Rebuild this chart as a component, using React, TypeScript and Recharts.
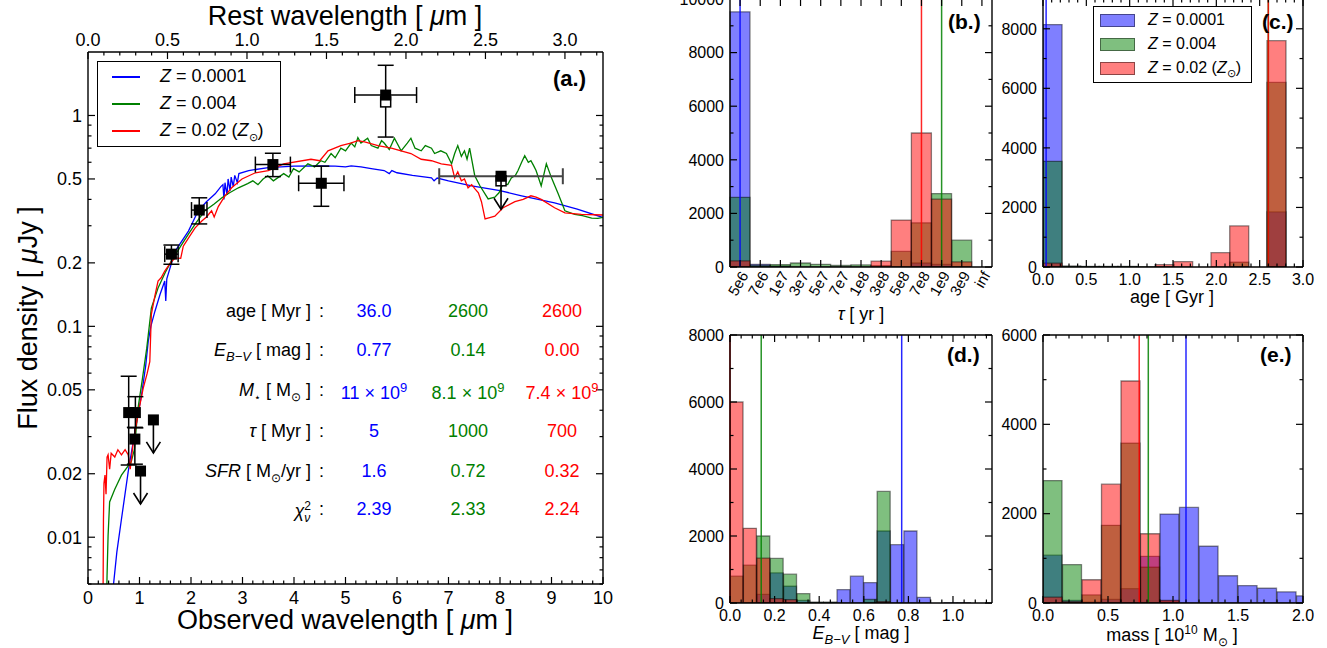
import React from 'react';
import {
  ComposedChart,
  BarChart,
  Bar,
  Line,
  Scatter,
  XAxis,
  YAxis,
  ErrorBar,
  ReferenceLine,
} from 'recharts';

const FONT = '"Liberation Sans", Arial, Helvetica, sans-serif';
const BLUE = '#0000ff';
const GREEN = '#008000';
const RED = '#ff0000';
const FILL_B = 'rgba(0,0,255,0.5)';
const FILL_G = 'rgba(0,128,0,0.5)';
const FILL_R = 'rgba(255,0,0,0.5)';
const EDGE = 'rgba(0,0,0,0.45)';

// redshift used for the rest-frame axis on top
const Z_RED = 2.087;

// model SEDs: [observed wavelength (um), flux density (uJy)]
const SED_BLUE: [number, number][] = [
  [0.45, 0.004], [0.49, 0.0058], [0.56, 0.0085], [0.65, 0.0122], [0.78, 0.0204],
  [0.91, 0.0316], [1.04, 0.0474], [1.12, 0.065], [1.17, 0.085], [1.22, 0.1],
  [1.3, 0.118], [1.4, 0.142], [1.49, 0.164], [1.51, 0.132], [1.53, 0.168],
  [1.69, 0.227], [1.95, 0.283], [2.14, 0.353], [2.3, 0.39], [2.47, 0.425],
  [2.58, 0.46], [2.62, 0.47], [2.64, 0.4], [2.66, 0.48], [2.7, 0.42], [2.72, 0.5],
  [2.76, 0.44], [2.78, 0.51], [2.82, 0.46], [2.85, 0.52], [2.9, 0.48], [2.93, 0.53],
  [3.12, 0.548], [3.5, 0.566], [4.0, 0.575], [4.46, 0.577], [4.8, 0.575], [5.0, 0.57],
  [5.11, 0.577], [5.3, 0.57], [5.5, 0.56], [5.75, 0.548], [5.85, 0.53], [5.9, 0.548],
  [6.0, 0.535], [6.3, 0.52], [6.67, 0.506], [6.72, 0.49], [6.78, 0.505], [7.0, 0.49],
  [7.45, 0.464], [8.0, 0.44], [8.42, 0.416], [9.06, 0.385], [9.5, 0.36], [10.04, 0.326],
];

const SED_GREEN: [number, number][] = [
  [0.355, 0.004], [0.37, 0.0066], [0.39, 0.0102], [0.42, 0.0147], [0.52, 0.0169],
  [0.65, 0.0197], [0.84, 0.0228], [0.9, 0.026], [0.97, 0.0407], [1.05, 0.055],
  [1.14, 0.0786], [1.23, 0.122], [1.36, 0.152], [1.5, 0.18], [1.62, 0.204],
  [1.8, 0.24], [1.95, 0.274], [2.1, 0.31], [2.27, 0.353], [2.45, 0.38], [2.6, 0.407],
  [2.75, 0.43], [2.92, 0.454], [3.1, 0.475], [3.2, 0.49], [3.3, 0.47], [3.4, 0.5],
  [3.49, 0.518], [3.6, 0.49], [3.8, 0.53], [3.9, 0.51], [3.99, 0.559], [4.1, 0.54],
  [4.27, 0.59], [4.4, 0.57], [4.52, 0.61], [4.6, 0.6], [4.72, 0.66], [4.8, 0.63],
  [4.91, 0.7], [5.0, 0.68], [5.11, 0.74], [5.18, 0.71], [5.24, 0.786], [5.3, 0.74],
  [5.43, 0.78], [5.5, 0.72], [5.63, 0.7], [5.7, 0.76], [5.75, 0.74], [5.85, 0.69],
  [5.95, 0.78], [6.08, 0.68], [6.2, 0.74], [6.27, 0.78], [6.35, 0.7], [6.47, 0.68],
  [6.55, 0.72], [6.67, 0.7], [6.73, 0.66], [6.85, 0.68], [6.96, 0.66], [7.06, 0.59],
  [7.12, 0.66], [7.18, 0.72], [7.25, 0.64], [7.31, 0.68], [7.36, 0.62], [7.41, 0.7],
  [7.51, 0.518], [7.61, 0.464], [7.77, 0.402], [7.9, 0.41], [7.98, 0.43], [8.06, 0.474],
  [8.15, 0.47], [8.22, 0.506], [8.3, 0.52], [8.35, 0.548], [8.42, 0.6], [8.48, 0.645],
  [8.55, 0.6], [8.6, 0.61], [8.65, 0.58], [8.7, 0.548], [8.8, 0.464], [8.9, 0.59],
  [9.0, 0.506], [9.13, 0.425], [9.26, 0.353], [9.45, 0.34], [9.6, 0.335], [9.78, 0.326],
  [9.9, 0.325], [10.04, 0.33],
];

const SED_RED: [number, number][] = [
  [0.29, 0.004], [0.3, 0.012], [0.31, 0.018], [0.33, 0.0197], [0.35, 0.016],
  [0.37, 0.024], [0.39, 0.0246], [0.42, 0.021], [0.45, 0.025], [0.52, 0.024],
  [0.58, 0.026], [0.65, 0.0246], [0.72, 0.026], [0.78, 0.0246], [0.82, 0.021],
  [0.88, 0.0284], [0.97, 0.0381], [1.07, 0.0507], [1.15, 0.06], [1.2, 0.068],
  [1.23, 0.114], [1.3, 0.14], [1.36, 0.164], [1.42, 0.17], [1.49, 0.183], [1.6, 0.2],
  [1.69, 0.211], [1.8, 0.21], [1.85, 0.24], [1.95, 0.262], [2.08, 0.293], [2.21, 0.316],
  [2.3, 0.33], [2.4, 0.353], [2.45, 0.33], [2.53, 0.37], [2.66, 0.416], [2.79, 0.454],
  [2.99, 0.5], [3.25, 0.535], [3.5, 0.548], [3.8, 0.59], [4.33, 0.62], [4.5, 0.61],
  [4.66, 0.68], [4.91, 0.72], [5.1, 0.74], [5.24, 0.76], [5.37, 0.75], [5.63, 0.72],
  [5.89, 0.7], [6.27, 0.66], [6.47, 0.62], [6.67, 0.61], [6.86, 0.59], [7.06, 0.58],
  [7.12, 0.506], [7.18, 0.54], [7.25, 0.49], [7.31, 0.5], [7.38, 0.454], [7.45, 0.47],
  [7.51, 0.45], [7.58, 0.43], [7.64, 0.39], [7.71, 0.323], [7.8, 0.328], [7.9, 0.333],
  [8.06, 0.365], [8.29, 0.39], [8.45, 0.4], [8.6, 0.416], [8.7, 0.41], [8.8, 0.4],
  [9.06, 0.365], [9.26, 0.345], [9.58, 0.34], [10.04, 0.337],
];

// photometry with errors
const PHOT_X = [0.79, 0.92, 0.91, 1.62, 2.16, 3.59, 4.53, 5.78];
const PHOT_Y = [0.039, 0.039, 0.0292, 0.22, 0.356, 0.585, 0.477, 1.25];
const PHOT_YLO = [0.017, 0.006, 0.007, 0.023, 0.05, 0.072, 0.106, 0.46];
const PHOT_YHI = [0.019, 0.0074, 0.004, 0.023, 0.051, 0.077, 0.098, 0.48];
const PHOT_XERR = [0, 0, 0, 0.13, 0.15, 0.34, 0.44, 0.6];
// upper limits
const LIM_X = [1.02, 1.27, 8.02];
const LIM_Y = [0.0206, 0.036, 0.515];
const LIM_XERR = [0, 0, 1.2];
// open markers under the last two points
const OPEN_X = [5.78, 8.02];
const OPEN_Y = [1.16, 0.49];

// fit results table
const AGE_VALS = ['36.0', '2600', '2600'];
const EBV_VALS = ['0.77', '0.14', '0.00'];
const MASS_VALS = ['11', '8.1', '7.4'];
const TAU_VALS = ['5', '1000', '700'];
const SFR_VALS = ['1.6', '0.72', '0.32'];
const CHI_VALS = ['2.39', '2.33', '2.24'];

// (b.) tau histogram
const TAU_BINS = ['5e6', '7e6', '1e7', '3e7', '5e7', '7e7', '1e8', '3e8', '5e8', '7e8', '1e9', '3e9', 'inf'];
const TAU_BLUE = [9520, 100, 40, 0, 0, 0, 0, 0, 0, 150, 100, 0, 0];
const TAU_GREEN = [2600, 60, 90, 150, 100, 60, 80, 50, 580, 1650, 2740, 1000, 0];
const TAU_RED = [230, 0, 0, 0, 0, 0, 0, 220, 1750, 5000, 2530, 190, 0];

// (c.) age histogram, Gyr bin centres
const AGE_BINS = [0.108, 0.323, 0.538, 0.754, 0.969, 1.185, 1.4, 1.615, 1.831, 2.046, 2.262, 2.477, 2.692];
const AGE_BLUE = [8140, 20, 10, 10, 10, 0, 0, 0, 0, 0, 0, 0, 1850];
const AGE_GREEN = [3550, 30, 20, 20, 20, 10, 10, 0, 0, 0, 160, 0, 6200];
const AGE_RED = [130, 0, 0, 0, 0, 0, 80, 180, 0, 480, 1380, 0, 7600];

// (d.) E(B-V) histogram
const EBV_BINS = [0.03, 0.09, 0.15, 0.21, 0.27, 0.33, 0.39, 0.45, 0.51, 0.57, 0.63, 0.69, 0.75, 0.81, 0.87, 0.93, 0.99, 1.05, 1.11];
const EBV_BLUE = [0, 0, 260, 900, 500, 80, 20, 20, 400, 800, 610, 2150, 1740, 2150, 170, 0, 10, 10, 0];
const EBV_GREEN = [800, 1130, 2000, 1330, 860, 280, 20, 20, 0, 0, 110, 3330, 0, 0, 0, 0, 0, 0, 0];
const EBV_RED = [6000, 2230, 1340, 130, 100, 0, 0, 0, 0, 0, 0, 40, 0, 0, 0, 0, 0, 0, 0];

// (e.) mass histogram, 1e10 Msun
const MASS_BINS = [0.075, 0.225, 0.375, 0.525, 0.675, 0.825, 0.975, 1.125, 1.275, 1.425, 1.575, 1.725, 1.875, 2.025];
const MASS_BLUE = [1070, 60, 20, 80, 320, 1045, 1990, 2140, 1270, 610, 390, 330, 250, 160];
const MASS_GREEN = [2740, 860, 180, 1740, 3580, 800, 40, 0, 0, 0, 0, 0, 0, 0];
const MASS_RED = [130, 30, 520, 2660, 4970, 1550, 60, 0, 0, 0, 0, 0, 0, 0];

const toXY = (a: [number, number][]) => a.map(([x, y]) => ({ x, y }));

function range(a: number, b: number, step: number) {
  const out: number[] = [];
  for (let i = 0; a + i * step <= b + 1e-9; i++) out.push(Math.round((a + i * step) * 1e6) / 1e6);
  return out;
}

type Side = 'left' | 'right' | 'top' | 'bottom';
const GAP = 6;
const near = (v: number, list: number[]) => list.some((m) => Math.abs(m - v) < 1e-6);

// ticks pointing inwards, matplotlib style
function tickFn(side: Side, o: { majors?: number[]; fmt?: (v: any) => string; size?: number; rotate?: number }) {
  return (p: any) => {
    const v = p.payload.value;
    const major = !o.majors || near(Number(v), o.majors);
    const len = major ? 7 : 3.5;
    const { x, y } = p;
    const fs = o.size ?? 16;
    const ts = { fontFamily: FONT, fontSize: fs, fill: '#000' };
    let l = [0, 0, 0, 0];
    let t: any = null;
    if (side === 'left') {
      const ax = x + GAP;
      l = [ax, y, ax + len, y];
      if (o.fmt && major)
        t = <text x={x} y={y} dy="0.36em" textAnchor="end" style={ts}>{o.fmt(v)}</text>;
    } else if (side === 'right') {
      const ax = x - GAP;
      l = [ax, y, ax - len, y];
    } else if (side === 'top') {
      const ay = y + GAP;
      l = [x, ay, x, ay + len];
      if (o.fmt && major)
        t = <text x={x} y={y} textAnchor="middle" style={ts}>{o.fmt(v)}</text>;
    } else {
      const ay = y - GAP;
      l = [x, ay, x, ay - len];
      if (o.fmt && major) {
        t = o.rotate ? (
          <text x={x + 5} y={y} dy="0.3em" textAnchor="end" transform={`rotate(${o.rotate} ${x + 5} ${y})`} style={ts}>
            {o.fmt(v)}
          </text>
        ) : (
          <text x={x} y={y} dy="0.76em" textAnchor="middle" style={ts}>{o.fmt(v)}</text>
        );
      }
    }
    return (
      <g>
        <line x1={l[0]} y1={l[1]} x2={l[2]} y2={l[3]} stroke="#000" strokeWidth={1.2} />
        {t}
      </g>
    );
  };
}

const AX = { stroke: '#000', strokeWidth: 1.4 };

const filledSquare = (p: any) => (
  <rect x={p.cx - 5.5} y={p.cy - 5.5} width={11} height={11} fill="#000" />
);
const openSquare = (p: any) => (
  <rect x={p.cx - 5} y={p.cy - 5} width={10} height={10} fill="#fff" stroke="#000" strokeWidth={1.5} />
);
const limitShape = (p: any) => (
  <g>
    <line x1={p.cx} y1={p.cy} x2={p.cx} y2={p.cy + 33} stroke="#000" strokeWidth={1.6} />
    <polyline
      points={`${p.cx - 7},${p.cy + 22} ${p.cx},${p.cy + 33} ${p.cx + 7},${p.cy + 22}`}
      fill="none"
      stroke="#000"
      strokeWidth={1.6}
    />
    <rect x={p.cx - 5.5} y={p.cy - 5.5} width={11} height={11} fill="#000" />
  </g>
);

const FLUX_TICKS = [0.006, 0.007, 0.008, 0.009, 0.01, 0.02, 0.03, 0.04, 0.05, 0.06, 0.07, 0.08, 0.09, 0.1, 0.2, 0.3, 0.4, 0.5, 0.6, 0.7, 0.8, 0.9, 1];
const FLUX_MAJ = [0.01, 0.02, 0.05, 0.1, 0.2, 0.5, 1];
const OBS_TICKS = range(0, 10, 0.2);
const REST_TICKS = range(0, 3.2, 0.1);

function SedPanel() {
  const phot = PHOT_X.map((x, i) => ({ x, y: PHOT_Y[i], ey: [PHOT_YLO[i], PHOT_YHI[i]], ex: PHOT_XERR[i] }));
  const lims = LIM_X.map((x, i) => ({ x, y: LIM_Y[i], ex: LIM_XERR[i] }));
  // open markers placed through the rest-frame axis (same position on the page)
  const openRest = OPEN_X.map((x, i) => ({ x: x / (1 + Z_RED), y: OPEN_Y[i] }));
  return (
    <div style={{ position: 'absolute', left: 0, top: 0 }}>
      <ComposedChart width={640} height={648} margin={{ top: 0, right: 0, bottom: 0, left: 0 }}>
        <XAxis
          xAxisId="obs"
          type="number"
          dataKey="x"
          domain={[0, 10]}
          allowDataOverflow
          ticks={OBS_TICKS}
          interval={0}
          height={64}
          tickSize={0}
          tickMargin={GAP}
          tickLine={false}
          axisLine={AX}
          tick={tickFn('bottom', { majors: range(0, 10, 1), fmt: (v) => String(v), size: 18 })}
        />
        <XAxis
          xAxisId="rest"
          orientation="top"
          type="number"
          dataKey="x"
          domain={[0, 10 / (1 + Z_RED)]}
          allowDataOverflow
          ticks={REST_TICKS}
          interval={0}
          height={52}
          tickSize={0}
          tickMargin={GAP}
          tickLine={false}
          axisLine={AX}
          tick={tickFn('top', { majors: range(0, 3, 0.5), fmt: (v) => Number(v).toFixed(1), size: 18 })}
        />
        <YAxis
          yAxisId="flux"
          type="number"
          scale="log"
          domain={[0.006, 2]}
          allowDataOverflow
          ticks={FLUX_TICKS}
          interval={0}
          width={88}
          tickSize={0}
          tickMargin={GAP}
          tickLine={false}
          axisLine={AX}
          tick={tickFn('left', { majors: FLUX_MAJ, fmt: (v) => String(v), size: 18 })}
        />
        <YAxis
          yAxisId="fr"
          orientation="right"
          type="number"
          scale="log"
          domain={[0.006, 2]}
          allowDataOverflow
          ticks={FLUX_TICKS}
          interval={0}
          width={37}
          tickSize={0}
          tickMargin={GAP}
          tickLine={false}
          axisLine={AX}
          tick={tickFn('right', { majors: FLUX_MAJ })}
        />
        <Line xAxisId="obs" yAxisId="flux" data={toXY(SED_BLUE)} dataKey="y" type="linear" stroke={BLUE} strokeWidth={1.3} dot={false} isAnimationActive={false} />
        <Line xAxisId="obs" yAxisId="flux" data={toXY(SED_GREEN)} dataKey="y" type="linear" stroke={GREEN} strokeWidth={1.3} dot={false} isAnimationActive={false} />
        <Line xAxisId="obs" yAxisId="fr" data={toXY(SED_RED)} dataKey="y" type="linear" stroke={RED} strokeWidth={1.3} dot={false} isAnimationActive={false} />
        <Scatter xAxisId="rest" yAxisId="flux" data={openRest} dataKey="y" shape={openSquare} isAnimationActive={false} />
        <Scatter xAxisId="obs" yAxisId="flux" data={phot} dataKey="y" shape={filledSquare} isAnimationActive={false}>
          <ErrorBar dataKey="ex" direction="x" width={8} stroke="#000" strokeWidth={1.5} />
          <ErrorBar dataKey="ey" direction="y" width={8} stroke="#000" strokeWidth={1.5} />
        </Scatter>
        <Scatter xAxisId="obs" yAxisId="flux" data={lims} dataKey="y" shape={limitShape} isAnimationActive={false}>
          <ErrorBar dataKey="ex" direction="x" width={8} stroke="#444" strokeWidth={2} />
        </Scatter>
      </ComposedChart>
    </div>
  );
}

type HistProps = {
  left: number;
  top: number;
  width: number;
  height: number;
  padL: number;
  padR: number;
  padT: number;
  padB: number;
  data: any[];
  category?: boolean;
  xDomain?: [number, number];
  xTicks?: number[];
  xMajors?: number[];
  xFmt: (v: any) => string;
  rotate?: number;
  yMax: number;
  yStep: number;
  refs: { x: any; color: string }[];
};

function Hist(p: HistProps) {
  const yTicks = range(0, p.yMax, 1000);
  const yMajors = range(0, p.yMax, p.yStep);
  const xCommon: any = p.category
    ? { type: 'category', dataKey: 'x' }
    : { type: 'number', dataKey: 'x', domain: p.xDomain, allowDataOverflow: true, ticks: p.xTicks };
  const common: any = { tickSize: 0, tickMargin: GAP, tickLine: false, axisLine: AX, interval: 0 };
  return (
    <div style={{ position: 'absolute', left: p.left, top: p.top }}>
      <BarChart
        width={p.width}
        height={p.height}
        data={p.data}
        margin={{ top: 0, right: 0, bottom: 0, left: 0 }}
        barCategoryGap={0}
        barGap={0}
      >
        <XAxis
          xAxisId="xb"
          {...xCommon}
          {...common}
          height={p.padB}
          tick={tickFn('bottom', { majors: p.xMajors, fmt: p.xFmt, rotate: p.rotate, size: p.rotate ? 15 : 16 })}
        />
        <XAxis xAxisId="xg" orientation="top" {...xCommon} {...common} height={p.padT} tick={tickFn('top', { majors: p.xMajors })} />
        <XAxis xAxisId="xr" hide {...xCommon} />
        <YAxis
          type="number"
          domain={[0, p.yMax]}
          allowDataOverflow
          ticks={yTicks}
          width={p.padL}
          {...common}
          tick={tickFn('left', { majors: yMajors, fmt: (v) => String(v), size: 16 })}
        />
        <YAxis
          yAxisId="yr"
          orientation="right"
          type="number"
          domain={[0, p.yMax]}
          allowDataOverflow
          ticks={yTicks}
          width={p.padR}
          {...common}
          tick={tickFn('right', { majors: yMajors })}
        />
        <Bar xAxisId="xb" dataKey="b" fill={FILL_B} stroke={EDGE} strokeWidth={1.3} isAnimationActive={false} />
        <Bar xAxisId="xg" dataKey="g" fill={FILL_G} stroke={EDGE} strokeWidth={1.3} isAnimationActive={false} />
        <Bar xAxisId="xr" yAxisId="yr" dataKey="r" fill={FILL_R} stroke={EDGE} strokeWidth={1.3} isAnimationActive={false} />
        {p.refs.map((r, i) => (
          <ReferenceLine key={i} xAxisId="xb" x={r.x} stroke={r.color} strokeWidth={1.5} strokeOpacity={0.85} />
        ))}
      </BarChart>
    </div>
  );
}

const txt = (extra: React.CSSProperties): React.CSSProperties => ({
  position: 'absolute',
  fontFamily: FONT,
  color: '#000',
  whiteSpace: 'nowrap',
  lineHeight: 1,
  ...extra,
});

const ROW_Y = [312, 351, 391, 432, 472, 510];
const COL_X = [374, 468, 562];
const COL_C = [BLUE, GREEN, RED];

function FitTable() {
  const labels: React.ReactNode[] = [
    <>age [ Myr ]</>,
    <>
      <i>E</i>
      <sub style={{ fontSize: 13 }}>
        <i>B−V</i>
      </sub>{' '}
      [ mag ]
    </>,
    <>
      <i>M</i>
      <sub style={{ fontSize: 11 }}>⋆</sub> [ M<sub style={{ fontSize: 12 }}>⊙</sub> ]
    </>,
    <>
      <i>τ</i> [ Myr ]
    </>,
    <>
      <i>SFR</i> [ M<sub style={{ fontSize: 12 }}>⊙</sub>/yr ]
    </>,
    <>
      <i>χ</i>
      <sub style={{ fontSize: 12 }}>
        <i>ν</i>
      </sub>
      <sup style={{ fontSize: 12, marginLeft: -6 }}>2</sup>
    </>,
  ];
  const vals: React.ReactNode[][] = [
    AGE_VALS,
    EBV_VALS,
    MASS_VALS.map((m) => (
      <>
        {m} × 10<sup style={{ fontSize: 13 }}>9</sup>
      </>
    )),
    TAU_VALS,
    SFR_VALS,
    CHI_VALS,
  ];
  return (
    <>
      {ROW_Y.map((y, r) => (
        <React.Fragment key={r}>
          <div style={txt({ left: 100, width: 211, top: y - 10, fontSize: 18, textAlign: 'right' })}>{labels[r]}</div>
          <div style={txt({ left: 319, top: y - 10, fontSize: 18 })}>:</div>
          {vals[r].map((v, c) => (
            <div key={c} style={txt({ left: COL_X[c] - 60, width: 120, top: y - 10, fontSize: 18, textAlign: 'center', color: COL_C[c] })}>
              {v}
            </div>
          ))}
        </React.Fragment>
      ))}
    </>
  );
}

function ZLabel({ i }: { i: number }) {
  if (i === 0)
    return (
      <>
        <i>Z</i> = 0.0001
      </>
    );
  if (i === 1)
    return (
      <>
        <i>Z</i> = 0.004
      </>
    );
  return (
    <>
      <i>Z</i> = 0.02 (<i>Z</i>
      <sub style={{ fontSize: 11 }}>⊙</sub>)
    </>
  );
}

export default function App() {
  const tauData = TAU_BINS.map((x, i) => ({ x, b: TAU_BLUE[i], g: TAU_GREEN[i], r: TAU_RED[i] }));
  const ageData = AGE_BINS.map((x, i) => ({ x, b: AGE_BLUE[i], g: AGE_GREEN[i], r: AGE_RED[i] }));
  const ebvData = EBV_BINS.map((x, i) => ({ x, b: EBV_BLUE[i], g: EBV_GREEN[i], r: EBV_RED[i] }));
  const massData = MASS_BINS.map((x, i) => ({ x, b: MASS_BLUE[i], g: MASS_GREEN[i], r: MASS_RED[i] }));
  return (
    <div style={{ position: 'absolute', left: 0, top: 0, width: 1327, height: 648, overflow: 'hidden', background: '#fff', fontFamily: FONT }}>
      <SedPanel />
      <Hist
        left={660} top={-30} width={340} height={360}
        padL={70} padR={8} padT={29} padB={63}
        data={tauData} category xFmt={(v) => String(v)} rotate={-60}
        yMax={10000} yStep={2000}
        refs={[{ x: '5e6', color: BLUE }, { x: '7e8', color: RED }, { x: '1e9', color: GREEN }]}
      />
      <Hist
        left={990} top={-30} width={337} height={360}
        padL={53} padR={24} padT={29} padB={63}
        data={ageData} xDomain={[0, 3]} xTicks={range(0, 3, 0.1)} xMajors={range(0, 3, 0.5)}
        xFmt={(v) => Number(v).toFixed(1)}
        yMax={9000} yStep={2000}
        refs={[{ x: 0.036, color: BLUE }, { x: 2.6, color: GREEN }, { x: 2.6, color: RED }]}
      />
      <Hist
        left={660} top={300} width={340} height={348}
        padL={70} padR={8} padT={35} padB={45}
        data={ebvData} xDomain={[0, 1.175]} xTicks={range(0, 1.15, 0.05)} xMajors={range(0, 1, 0.2)}
        xFmt={(v) => Number(v).toFixed(1)}
        yMax={8000} yStep={2000}
        refs={[{ x: 0.77, color: BLUE }, { x: 0.14, color: GREEN }, { x: 0, color: RED }]}
      />
      <Hist
        left={990} top={300} width={337} height={348}
        padL={53} padR={24} padT={35} padB={45}
        data={massData} xDomain={[0, 2]} xTicks={range(0, 2, 0.1)} xMajors={range(0, 2, 0.5)}
        xFmt={(v) => Number(v).toFixed(1)}
        yMax={6000} yStep={2000}
        refs={[{ x: 1.1, color: BLUE }, { x: 0.81, color: GREEN }, { x: 0.74, color: RED }]}
      />

      {/* panel (a) texts */}
      <div style={txt({ left: 345, top: 3, fontSize: 27, transform: 'translateX(-50%)' })}>
        Rest wavelength [ <i>μ</i>m ]
      </div>
      <div style={txt({ left: 345, top: 607, fontSize: 27, transform: 'translateX(-50%)' })}>
        Observed wavelength [ <i>μ</i>m ]
      </div>
      <div style={txt({ left: 28, top: 318, fontSize: 27, transform: 'translate(-50%, -50%) rotate(-90deg)' })}>
        Flux density [ <i>μ</i>Jy ]
      </div>
      <div style={txt({ left: 553, top: 68, fontSize: 22, fontWeight: 'bold' })}>(a.)</div>
      <div style={{ position: 'absolute', left: 97, top: 61, width: 184, height: 86, border: '1.5px solid #000', background: '#fff', boxSizing: 'border-box' }}>
        {[BLUE, GREEN, RED].map((c, i) => (
          <React.Fragment key={i}>
            <div style={{ position: 'absolute', left: 14, top: 14 + i * 27, width: 28, height: 2, background: c }} />
            <div style={txt({ left: 62, top: 5 + i * 27, fontSize: 18 })}>
              <ZLabel i={i} />
            </div>
          </React.Fragment>
        ))}
      </div>
      <FitTable />

      {/* histogram texts */}
      <div style={txt({ left: 948, top: 11, fontSize: 21, fontWeight: 'bold' })}>(b.)</div>
      <div style={txt({ left: 1262, top: 11, fontSize: 21, fontWeight: 'bold' })}>(c.)</div>
      <div style={txt({ left: 947, top: 344, fontSize: 21, fontWeight: 'bold' })}>(d.)</div>
      <div style={txt({ left: 1260, top: 344, fontSize: 21, fontWeight: 'bold' })}>(e.)</div>
      <div style={txt({ left: 861, top: 305, fontSize: 18, transform: 'translateX(-50%)' })}>
        <i>τ</i> [ yr ]
      </div>
      <div style={txt({ left: 1172, top: 288, fontSize: 18, transform: 'translateX(-50%)' })}>age [ Gyr ]</div>
      <div style={txt({ left: 861, top: 624, fontSize: 18, transform: 'translateX(-50%)' })}>
        <i>E</i>
        <sub style={{ fontSize: 13 }}>
          <i>B−V</i>
        </sub>{' '}
        [ mag ]
      </div>
      <div style={txt({ left: 1172, top: 624, fontSize: 18, transform: 'translateX(-50%)' })}>
        mass [ 10<sup style={{ fontSize: 12 }}>10</sup> M<sub style={{ fontSize: 12 }}>⊙</sub> ]
      </div>
      <div style={{ position: 'absolute', left: 1093, top: 6, width: 159, height: 77, border: '1.3px solid #000', background: '#fff', boxSizing: 'border-box' }}>
        {[FILL_B, FILL_G, FILL_R].map((c, i) => (
          <React.Fragment key={i}>
            <div style={{ position: 'absolute', left: 6, top: 7 + i * 24, width: 33, height: 11, background: c, border: `1.2px solid ${EDGE}` }} />
            <div style={txt({ left: 54, top: 5 + i * 24, fontSize: 16 })}>
              <ZLabel i={i} />
            </div>
          </React.Fragment>
        ))}
      </div>
    </div>
  );
}
